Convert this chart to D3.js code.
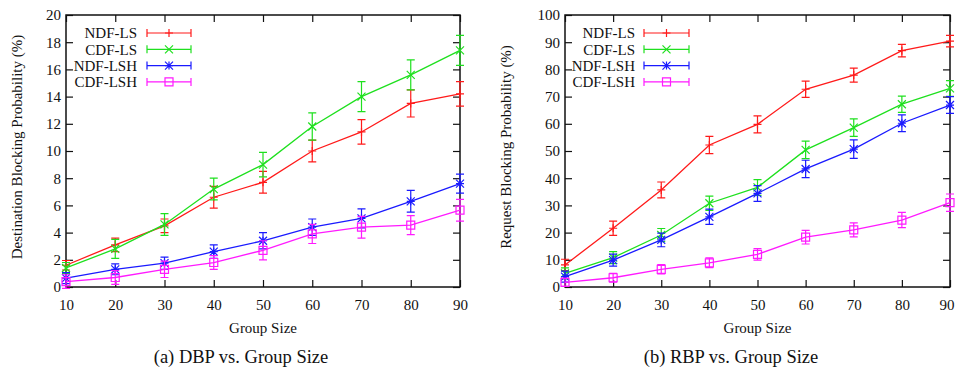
<!DOCTYPE html>
<html><head><meta charset="utf-8">
<script src="https://cdn.jsdelivr.net/npm/d3@7"></script>
<style>
html,body{margin:0;padding:0;background:#fff;}
svg text{font-family:"Liberation Serif","DejaVu Serif",serif;fill:#111;}
</style></head>
<body><svg id="chart" width="955" height="370"></svg>
<script>
const groupSizes = [10, 20, 30, 40, 50, 60, 70, 80, 90];
const seriesNames = ["NDF-LS", "CDF-LS", "NDF-LSH", "CDF-LSH"];

// (a) Destination Blocking Probability (%)
const dbpNdfLs     = [1.6, 3.1, 4.5, 6.6, 7.7, 10.0, 11.4, 13.5, 14.2];
const dbpNdfLsErr  = [0.35, 0.5, 0.5, 0.8, 0.8, 0.8, 0.9, 1.0, 0.9];
const dbpCdfLs     = [1.4, 2.8, 4.6, 7.2, 9.0, 11.8, 14.0, 15.6, 17.4];
const dbpCdfLsErr  = [0.4, 0.7, 0.8, 0.8, 0.9, 1.0, 1.1, 1.1, 1.1];
const dbpNdfLsh    = [0.65, 1.3, 1.75, 2.6, 3.4, 4.4, 5.05, 6.3, 7.6];
const dbpNdfLshErr = [0.4, 0.4, 0.45, 0.5, 0.6, 0.6, 0.7, 0.8, 0.7];
const dbpCdfLsh    = [0.4, 0.7, 1.3, 1.8, 2.7, 3.9, 4.4, 4.55, 5.65];
const dbpCdfLshErr = [0.5, 0.5, 0.6, 0.5, 0.7, 0.7, 0.8, 0.7, 0.8];

// (b) Request Blocking Probability (%)
const rbpNdfLs     = [8.1, 21.6, 35.7, 52.2, 59.8, 72.7, 77.9, 86.9, 90.4];
const rbpNdfLsErr  = [2.1, 2.6, 2.9, 3.2, 3.1, 3.0, 2.6, 2.3, 2.1];
const rbpCdfLs     = [5.0, 10.8, 19.1, 30.8, 36.6, 50.4, 58.6, 67.2, 73.0];
const rbpCdfLsErr  = [2.0, 2.2, 2.4, 2.6, 2.9, 3.2, 3.2, 3.0, 2.9];
const rbpNdfLsh    = [3.8, 9.9, 17.3, 25.8, 34.4, 43.4, 50.7, 60.2, 66.9];
const rbpNdfLshErr = [2.0, 2.2, 2.5, 2.8, 2.9, 3.2, 3.4, 3.1, 3.1];
const rbpCdfLsh    = [1.7, 3.4, 6.5, 8.9, 12.0, 18.3, 21.0, 24.6, 31.0];
const rbpCdfLshErr = [1.5, 1.6, 1.7, 1.8, 2.1, 2.5, 2.6, 2.8, 3.2];

const dbpTicks = [0, 2, 4, 6, 8, 10, 12, 14, 16, 18, 20];
const rbpTicks = [0, 10, 20, 30, 40, 50, 60, 70, 80, 90, 100];

const colors = ["#ff1a1a", "#1ee01e", "#1a1aff", "#ff1aff"];
const markers = ["plus", "cross", "star", "square"];

const panels = [
  { left: 66, right: 460, top: 15, bottom: 287, yMax: 20, ticks: dbpTicks,
    ytitle: "Destination Blocking Probability (%)", ytitleX: 17, caption: "(a) DBP vs. Group Size", captionX: 241,
    values: [dbpNdfLs, dbpCdfLs, dbpNdfLsh, dbpCdfLsh], errs: [dbpNdfLsErr, dbpCdfLsErr, dbpNdfLshErr, dbpCdfLshErr],
    legTextX: 137, legLineX0: 147, legLineX1: 191 },
  { left: 565, right: 950, top: 15, bottom: 287, yMax: 100, ticks: rbpTicks,
    ytitle: "Request Blocking Probability (%)", ytitleX: 506, caption: "(b) RBP vs. Group Size", captionX: 731,
    values: [rbpNdfLs, rbpCdfLs, rbpNdfLsh, rbpCdfLsh], errs: [rbpNdfLsErr, rbpCdfLsErr, rbpNdfLshErr, rbpCdfLshErr],
    legTextX: 635, legLineX0: 644, legLineX1: 689 }
];

const svg = d3.select("#chart");
const W = 955;

function drawMarker(g, type, cx, cy, color) {
  const s = 4;
  const p = d3.path();
  if (type === "plus" || type === "star") {
    p.moveTo(cx - s, cy); p.lineTo(cx + s, cy);
    p.moveTo(cx, cy - s); p.lineTo(cx, cy + s);
  }
  if (type === "cross" || type === "star") {
    p.moveTo(cx - s, cy - s); p.lineTo(cx + s, cy + s);
    p.moveTo(cx - s, cy + s); p.lineTo(cx + s, cy - s);
  }
  if (type === "square") {
    p.rect(cx - s, cy - s, 2 * s, 2 * s);
  }
  g.append("path").attr("d", p.toString()).attr("fill", "none")
    .attr("stroke", color).attr("stroke-width", 1.2);
}

panels.forEach(P => {
  const x = d3.scaleLinear().domain([10, 90]).range([P.left, P.right]);
  const y = d3.scaleLinear().domain([0, P.yMax]).range([P.bottom, P.top]);
  const g = svg.append("g");
  const tickLen = 7;

  const xAxis = d3.axisBottom(x).tickValues(groupSizes).tickSizeInner(-tickLen).tickSizeOuter(0).tickPadding(12);
  const yAxis = d3.axisLeft(y).tickValues(P.ticks).tickSizeInner(-tickLen).tickSizeOuter(0).tickPadding(12);
  const xTop = d3.axisTop(x).tickValues(groupSizes).tickSizeInner(-tickLen).tickSizeOuter(0).tickFormat("");
  const yRight = d3.axisRight(y).tickValues(P.ticks).tickSizeInner(-tickLen).tickSizeOuter(0).tickFormat("");

  const gx = g.append("g").attr("transform", `translate(0,${P.bottom})`).call(xAxis);
  const gy = g.append("g").attr("transform", `translate(${P.left},0)`).call(yAxis);
  const gt = g.append("g").attr("transform", `translate(0,${P.top})`).call(xTop);
  const gr = g.append("g").attr("transform", `translate(${P.right},0)`).call(yRight);
  [gx, gy, gt, gr].forEach(a => {
    a.select(".domain").remove();
    a.selectAll(".tick line").attr("stroke", "#111").attr("stroke-width", 1.2);
    a.selectAll("text").attr("font-size", 15).attr("fill", "#111")
      .style("font-family", "'Liberation Serif', serif");
  });
  gx.selectAll("text").attr("dy", "0.71em").attr("y", 12);
  // keep the last x label inside the page
  gx.selectAll(".tick").each(function (d) {
    const px = x(d);
    if (px + 8 > W) d3.select(this).select("text").attr("text-anchor", "end").attr("x", W - 1 - px);
  });
  gy.selectAll("text").attr("x", -5);

  g.append("rect").attr("x", P.left).attr("y", P.top)
    .attr("width", P.right - P.left).attr("height", P.bottom - P.top)
    .attr("fill", "none").attr("stroke", "#111").attr("stroke-width", 1.5);

  P.values.forEach((vals, si) => {
    const col = colors[si];
    const sg = g.append("g");
    const line = d3.line().x((d, i) => x(groupSizes[i])).y(d => y(d));
    sg.append("path").datum(vals).attr("d", line).attr("fill", "none")
      .attr("stroke", col).attr("stroke-width", 1.3);
    vals.forEach((v, i) => {
      const cx = x(groupSizes[i]);
      const e = P.errs[si][i];
      const y0 = y(v - e), y1 = y(v + e);
      const p = d3.path();
      p.moveTo(cx, y0); p.lineTo(cx, y1);
      p.moveTo(cx - 4, y0); p.lineTo(cx + 4, y0);
      p.moveTo(cx - 4, y1); p.lineTo(cx + 4, y1);
      sg.append("path").attr("d", p.toString()).attr("fill", "none")
        .attr("stroke", col).attr("stroke-width", 1.2);
      drawMarker(sg, markers[si], cx, y(v), col);
    });
  });

  seriesNames.forEach((name, si) => {
    const ly = 33 + si * 16.3;
    const col = colors[si];
    g.append("text").attr("x", P.legTextX).attr("y", ly).attr("dy", "0.35em")
      .attr("text-anchor", "end").attr("font-size", 15).text(name);
    const p = d3.path();
    p.moveTo(P.legLineX0, ly); p.lineTo(P.legLineX1, ly);
    p.moveTo(P.legLineX0, ly - 4); p.lineTo(P.legLineX0, ly + 4);
    p.moveTo(P.legLineX1, ly - 4); p.lineTo(P.legLineX1, ly + 4);
    g.append("path").attr("d", p.toString()).attr("fill", "none")
      .attr("stroke", col).attr("stroke-width", 1.2);
    drawMarker(g, markers[si], (P.legLineX0 + P.legLineX1) / 2, ly, col);
  });

  g.append("text").attr("x", (P.left + P.right) / 2).attr("y", 333)
    .attr("text-anchor", "middle").attr("font-size", 15).text("Group Size");
  g.append("text").attr("transform", `translate(${P.ytitleX},${(P.top + P.bottom) / 2 - 4}) rotate(-90)`)
    .attr("text-anchor", "middle").attr("dy", "0.35em").attr("font-size", 15).text(P.ytitle);
  g.append("text").attr("x", P.captionX).attr("y", 363)
    .attr("text-anchor", "middle").attr("font-size", 18.5).text(P.caption);
});
</script>
</body></html>
